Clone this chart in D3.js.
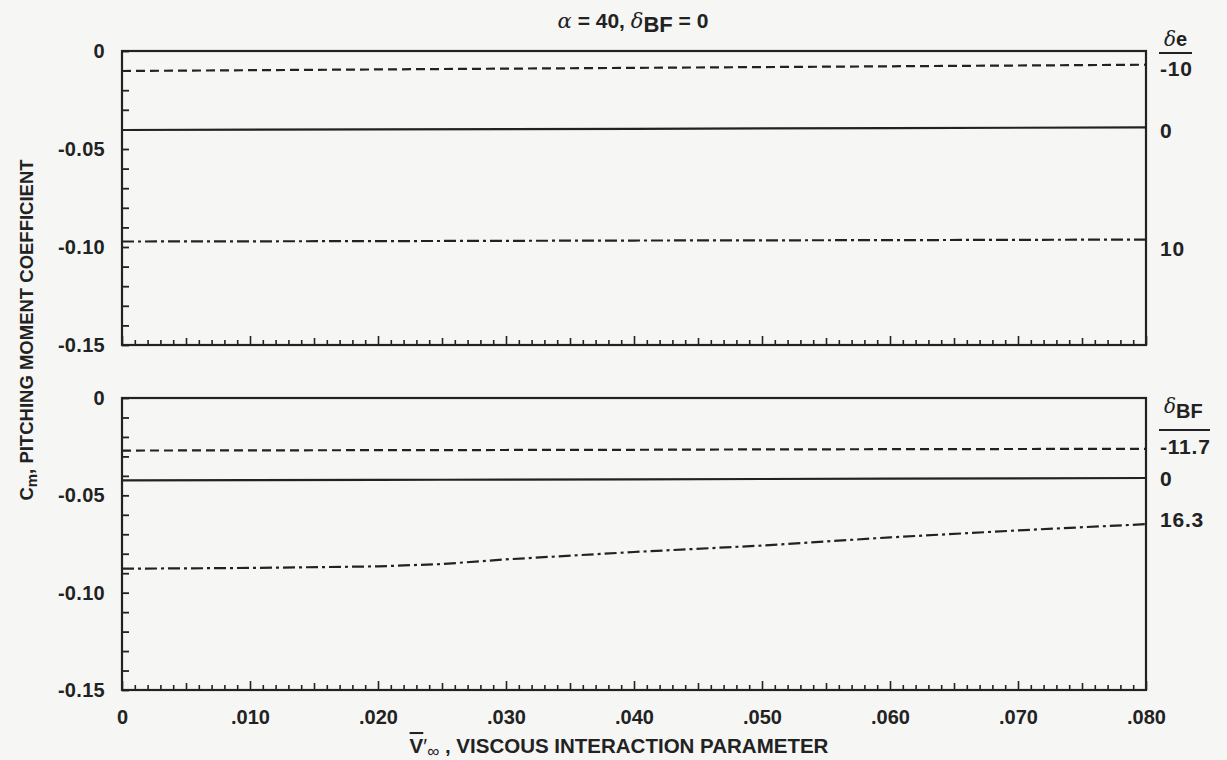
<!DOCTYPE html>
<html>
<head>
<meta charset="utf-8">
<script src="https://cdn.jsdelivr.net/npm/d3@7"></script>
<style>
  body { margin: 0; background: #f6f6f4; }
  svg { display: block; font-family: "Liberation Sans", Arial, sans-serif; font-weight: bold; fill: #222; }
</style>
</head>
<body>
<svg id="chart" width="1227" height="760"></svg>
<script>
"use strict";
// x positions (viscous interaction parameter) and Cm readings for each curve
var xTicks = [0, .010, .020, .030, .040, .050, .060, .070, .080];
var xTickLabels = ["0", ".010", ".020", ".030", ".040", ".050", ".060", ".070", ".080"];
var yTicks = [0, -0.05, -0.10, -0.15];
var yTickLabels = ["0", "-0.05", "-0.10", "-0.15"];

// upper panel: elevon deflection
var elevonX = [0, .020, .040, .060, .080];
var elevonNeg10 = [-0.0102, -0.0094, -0.0086, -0.0078, -0.0070];
var elevon0 = [-0.0403, -0.0400, -0.0397, -0.0393, -0.0390];
var elevon10 = [-0.0972, -0.0970, -0.0967, -0.0965, -0.0962];
var elevonLabels = ["-10", "0", "10"];

// lower panel: body flap deflection
var flapX = [0, .010, .020, .025, .030, .040, .050, .060, .070, .080];
var flapNeg117 = [-0.0270, -0.0269, -0.0268, -0.0268, -0.0267, -0.0266, -0.0264, -0.0263, -0.0262, -0.0261];
var flap0 = [-0.0423, -0.0422, -0.0421, -0.0420, -0.0419, -0.0418, -0.0416, -0.0414, -0.0413, -0.0411];
var flap163 = [-0.0877, -0.0873, -0.0865, -0.0853, -0.0829, -0.0791, -0.0758, -0.0716, -0.0680, -0.0648];
var flapLabels = ["-11.7", "0", "16.3"];

var styles = ["9,5", null, "12,4,3,4"];

var svg = d3.select("#chart");
var ink = "#222";
var font = "Liberation Sans, Arial, sans-serif";

var x = d3.scaleLinear().domain([0, 0.08]).range([122, 1146]);

function drawPanel(top, bottom, seriesX, series, showXLabels) {
    var y = d3.scaleLinear().domain([0, -0.15]).range([top, bottom]);
    var g = svg.append("g");

    // frame
    g.append("rect")
        .attr("x", x(0)).attr("y", y(0))
        .attr("width", x(0.08) - x(0)).attr("height", y(-0.15) - y(0))
        .attr("fill", "none").attr("stroke", ink).attr("stroke-width", 2.2);

    // minor y ticks every 0.01, pointing inward
    var yMinor = d3.range(0, 16).map(function (i) { return -i / 100; });
    g.append("g")
        .attr("transform", "translate(" + x(0) + ",0)")
        .call(d3.axisRight(y).tickValues(yMinor).tickSize(7).tickFormat(""))
        .call(function (a) { a.select(".domain").remove(); })
        .selectAll("line").attr("stroke", ink).attr("stroke-width", 1.8);

    // y tick labels
    g.append("g")
        .attr("transform", "translate(" + (x(0) - 14) + ",0)")
        .call(d3.axisLeft(y).tickValues(yTicks).tickSize(0)
            .tickFormat(function (d, i) { return yTickLabels[i]; }))
        .call(function (a) { a.select(".domain").remove(); })
        .selectAll("text")
        .attr("font-size", 20).attr("font-weight", "bold").attr("fill", ink)
        .attr("letter-spacing", 0.3).attr("font-family", font);

    // x ticks every 0.001 pointing inward, taller at each 0.005
    var xMinor = d3.range(0, 81).map(function (i) { return i / 1000; });
    g.append("g")
        .attr("transform", "translate(0," + y(-0.15) + ")")
        .call(d3.axisTop(x).tickValues(xMinor).tickSize(4).tickFormat(""))
        .call(function (a) { a.select(".domain").remove(); })
        .selectAll("line")
        .attr("y2", function (d, i) { return i % 10 === 0 ? -9 : (i % 5 === 0 ? -7 : -5); })
        .attr("stroke", ink).attr("stroke-width", 1.6);

    if (showXLabels) {
        g.append("g")
            .attr("transform", "translate(0," + (y(-0.15) + 17) + ")")
            .call(d3.axisBottom(x).tickValues(xTicks).tickSize(0)
                .tickFormat(function (d, i) { return xTickLabels[i]; }))
            .call(function (a) { a.select(".domain").remove(); })
            .selectAll("text")
            .attr("font-size", 20).attr("font-weight", "bold").attr("fill", ink)
            .attr("font-family", font);
    }

    var line = d3.line()
        .x(function (d) { return x(d[0]); })
        .y(function (d) { return y(d[1]); });

    series.forEach(function (vals, k) {
        g.append("path")
            .datum(seriesX.map(function (xv, i) { return [xv, vals[i]]; }))
            .attr("d", line)
            .attr("fill", "none")
            .attr("stroke", ink)
            .attr("stroke-width", 2.2)
            .attr("stroke-dasharray", styles[k]);
    });
    return y;
}

var yTop = drawPanel(51, 345, elevonX, [elevonNeg10, elevon0, elevon10], false);
var yBot = drawPanel(398, 690, flapX, [flapNeg117, flap0, flap163], true);

// title
var title = svg.append("text")
    .attr("x", 633).attr("y", 28)
    .attr("text-anchor", "middle")
    .attr("font-size", 21).attr("fill", ink);
title.append("tspan").attr("font-family", "DejaVu Serif, serif").attr("font-style", "italic")
    .attr("font-weight", "normal").text("\u03b1");
title.append("tspan").text(" = 40, ");
title.append("tspan").attr("font-family", "DejaVu Serif, serif").attr("font-style", "italic")
    .attr("font-weight", "normal").text("\u03b4");
title.append("tspan").attr("dy", 4).attr("font-size", 22).text("BF");
title.append("tspan").attr("dy", -4).text(" = 0");

// right-hand legends
function legend(headMain, headSub, yHead, lineY, lineW, labels, labelY) {
    var t = svg.append("text").attr("x", 1164).attr("y", yHead)
        .attr("font-size", 20).attr("fill", ink);
    t.append("tspan").attr("font-family", "DejaVu Serif, serif").attr("font-style", "italic")
        .attr("font-weight", "normal").text(headMain);
    t.append("tspan").attr("dy", headSub === "e" ? 0 : 5).text(headSub);
    svg.append("line")
        .attr("x1", 1159).attr("x2", 1159 + lineW)
        .attr("y1", lineY).attr("y2", lineY)
        .attr("stroke", ink).attr("stroke-width", 2.2);
    labels.forEach(function (lab, i) {
        svg.append("text").attr("x", 1160).attr("y", labelY[i])
            .attr("font-size", 21).attr("letter-spacing", 0.8).attr("fill", ink).text(lab);
    });
}
legend("\u03b4", "e", 46, 53, 33, elevonLabels,
    [yTop(elevonNeg10[4]) + 11, yTop(elevon0[4]) + 11, yTop(elevon10[4]) + 16]);
legend("\u03b4", "BF", 413, 430, 51, flapLabels,
    [yBot(flapNeg117[9]) + 5, yBot(flap0[9]) + 8, yBot(flap163[9]) + 3]);

// axis titles
var xTitle = svg.append("text")
    .attr("x", 619).attr("y", 753)
    .attr("text-anchor", "middle")
    .attr("font-size", 20.5).attr("fill", ink);
xTitle.append("tspan").attr("text-decoration", "overline").text("V");
xTitle.append("tspan").attr("font-weight", "normal").text("\u2032");
xTitle.append("tspan").attr("dy", 4).attr("font-size", 17).attr("font-weight", "normal").text("\u221e");
xTitle.append("tspan").attr("dy", -4).text(" , VISCOUS INTERACTION PARAMETER");

var yTitle = svg.append("text")
    .attr("transform", "translate(33,330) rotate(-90)")
    .attr("text-anchor", "middle")
    .attr("font-size", 18.5).attr("fill", ink);
yTitle.append("tspan").text("C");
yTitle.append("tspan").attr("dy", 4).attr("font-size", 15).text("m");
yTitle.append("tspan").attr("dy", -4).text(",  PITCHING MOMENT COEFFICIENT");
</script>
</body>
</html>
